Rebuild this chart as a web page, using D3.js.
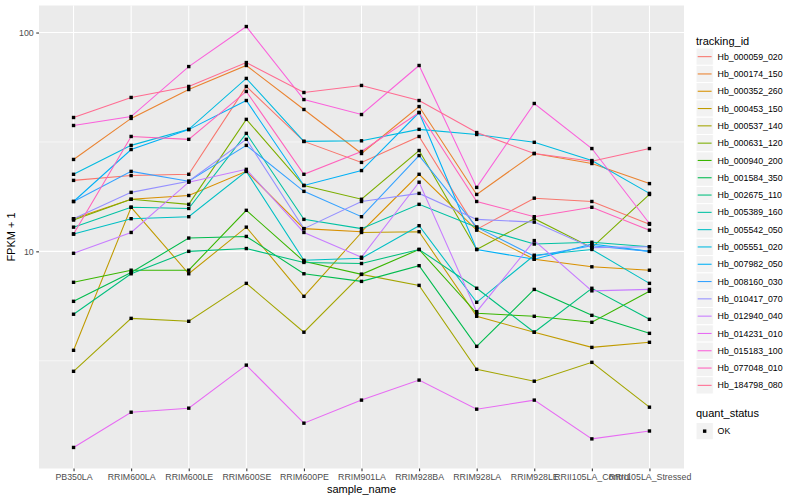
<!DOCTYPE html>
<html>
<head>
<meta charset="utf-8">
<script src="https://cdn.jsdelivr.net/npm/d3@7"></script>
<style>
  body { margin: 0; background: #fff; }
  svg { display: block; font-family: "Liberation Sans", Arial, Helvetica, sans-serif; }
</style>
</head>
<body>
<svg id="chart" width="800" height="500"></svg>
<script>
const samples = ["PB350LA", "RRIM600LA", "RRIM600LE", "RRIM600SE", "RRIM600PE", "RRIM901LA",
  "RRIM928BA", "RRIM928LA", "RRIM928LE", "RRII105LA_Control", "RRII105LA_Stressed"];

const trackingIds = ["Hb_000059_020", "Hb_000174_150", "Hb_000352_260", "Hb_000453_150", "Hb_000537_140",
  "Hb_000631_120", "Hb_000940_200", "Hb_001584_350", "Hb_002675_110", "Hb_005389_160",
  "Hb_005542_050", "Hb_005551_020", "Hb_007982_050", "Hb_008160_030", "Hb_010417_070",
  "Hb_012940_040", "Hb_014231_010", "Hb_015183_100", "Hb_077048_010", "Hb_184798_080"];

// FPKM + 1, one array per gene, in sample order
const hb_000059_020 = [21.1, 22.2, 22.5, 56.7, 31.8, 25.5, 33.5, 12.6, 17.5, 16.9, 13.3];
const hb_000174_150 = [26.3, 40.5, 54.9, 70.7, 44.5, 28.0, 45.9, 18.2, 28.0, 25.2, 20.4];
const hb_000352_260 = [14.1, 17.3, 18.0, 23.2, 12.7, 12.3, 22.5, 12.5, 9.2, 8.5, 8.2];
const hb_000453_150 = [3.53, 15.9, 7.9, 12.9, 6.23, 12.2, 12.3, 5.05, 4.27, 3.64, 3.84];
const hb_000537_140 = [2.83, 4.94, 4.79, 7.14, 4.27, 7.85, 6.99, 2.89, 2.55, 3.11, 1.94];
const hb_000631_120 = [13.9, 17.3, 16.4, 40.1, 20.0, 17.3, 28.9, 10.2, 14.1, 10.4, 18.2];
const hb_000940_200 = [7.22, 8.2, 8.2, 15.4, 9.0, 7.85, 10.2, 5.21, 5.05, 4.74, 6.57];
const hb_001584_350 = [5.91, 8.0, 11.5, 11.7, 7.9, 7.29, 8.6, 3.68, 6.7, 5.1, 4.22];
const hb_002675_110 = [5.16, 7.9, 10.0, 10.3, 8.9, 8.8, 10.2, 6.78, 4.27, 6.78, 4.89];
const hb_005389_160 = [12.9, 15.9, 15.7, 34.6, 14.0, 12.7, 16.4, 12.9, 10.8, 11.0, 10.5];
const hb_005542_050 = [12.0, 14.1, 14.4, 23.2, 9.1, 9.3, 13.1, 5.85, 9.6, 10.2, 7.14];
const hb_005551_020 = [22.5, 30.5, 36.1, 61.7, 31.8, 32.0, 36.1, 34.2, 31.5, 26.0, 18.4];
const hb_007982_050 = [16.9, 29.2, 36.0, 48.9, 20.0, 23.4, 43.1, 10.2, 9.2, 10.8, 10.0];
const hb_008160_030 = [16.9, 23.2, 20.9, 30.5, 18.8, 14.4, 27.4, 12.9, 9.5, 10.6, 10.0];
const hb_010417_070 = [14.1, 18.6, 20.9, 32.5, 12.7, 16.9, 18.4, 14.0, 13.6, 10.4, 10.5];
const hb_012940_040 = [9.8, 12.2, 20.7, 23.7, 12.2, 9.4, 20.7, 5.3, 11.2, 6.6, 6.7];
const hb_014231_010 = [1.27, 1.84, 1.92, 3.02, 1.64, 2.09, 2.58, 1.90, 2.09, 1.39, 1.51];
const hb_015183_100 = [37.6, 41.3, 69.9, 106.5, 49.4, 42.2, 70.7, 19.6, 47.4, 29.5, 13.4];
const hb_077048_010 = [12.0, 33.5, 32.5, 53.8, 22.5, 28.6, 43.1, 16.9, 14.4, 15.9, 12.5];
const hb_184798_080 = [40.9, 50.5, 56.7, 72.9, 53.2, 57.3, 48.9, 34.9, 28.0, 25.8, 29.5];

const geneValues = [hb_000059_020, hb_000174_150, hb_000352_260, hb_000453_150, hb_000537_140,
  hb_000631_120, hb_000940_200, hb_001584_350, hb_002675_110, hb_005389_160,
  hb_005542_050, hb_005551_020, hb_007982_050, hb_008160_030, hb_010417_070,
  hb_012940_040, hb_014231_010, hb_015183_100, hb_077048_010, hb_184798_080];

const yTicks = [10, 100];
const yMinorTicks = [3.162, 31.62];
const quantLevels = ["OK"];

// ggplot2 default hue palette for 20 levels
const palette = ["#F8766D", "#EA8331", "#D89000", "#C09B00", "#A3A500", "#7CAE00", "#39B600",
  "#00BB4E", "#00BF7D", "#00C1A3", "#00BFC4", "#00BAE0", "#00B0F6", "#35A2FF", "#9590FF",
  "#C77CFF", "#E76BF3", "#FA62DB", "#FF62BC", "#FF6C91"];

const series = trackingIds.map((id, i) => ({
  id,
  values: samples.map((s, j) => ({ sample: s, value: geneValues[i][j] }))
}));

const svg = d3.select("#chart");
const panel = { left: 39, top: 5.5, right: 684, bottom: 468.5 };

const color = d3.scaleOrdinal().domain(trackingIds).range(palette);

const x = d3.scalePoint()
  .domain(samples)
  .range([panel.left, panel.right])
  .padding(0.6);

const allVals = series.flatMap((s) => s.values.map((d) => d.value));
const logExt = d3.extent(allVals, (v) => Math.log10(v));
const pad = (logExt[1] - logExt[0]) * 0.05;
const y = d3.scaleLog()
  .domain([Math.pow(10, logExt[0] - pad), Math.pow(10, logExt[1] + pad)])
  .range([panel.bottom, panel.top]);

// panel background
svg.append("rect")
  .attr("x", panel.left).attr("y", panel.top)
  .attr("width", panel.right - panel.left).attr("height", panel.bottom - panel.top)
  .attr("fill", "#EBEBEB");

// grid
const grid = svg.append("g");
grid.selectAll(".minor")
  .data(yMinorTicks)
  .join("line")
  .attr("x1", panel.left).attr("x2", panel.right)
  .attr("y1", (d) => y(d)).attr("y2", (d) => y(d))
  .attr("stroke", "#fff").attr("stroke-width", 0.55);
grid.selectAll(".majorY")
  .data(yTicks)
  .join("line")
  .attr("x1", panel.left).attr("x2", panel.right)
  .attr("y1", (d) => y(d)).attr("y2", (d) => y(d))
  .attr("stroke", "#fff").attr("stroke-width", 1.07);
grid.selectAll(".majorX")
  .data(samples)
  .join("line")
  .attr("x1", (d) => x(d)).attr("x2", (d) => x(d))
  .attr("y1", panel.top).attr("y2", panel.bottom)
  .attr("stroke", "#fff").attr("stroke-width", 1.07);

// lines
const lineGen = d3.line()
  .x((d) => x(d.sample))
  .y((d) => y(d.value));

svg.append("g")
  .selectAll("path")
  .data(series)
  .join("path")
  .attr("d", (d) => lineGen(d.values))
  .attr("fill", "none")
  .attr("stroke", (d) => color(d.id))
  .attr("stroke-width", 1.07);

// points
const ptSize = 3.4;
svg.append("g")
  .selectAll("rect")
  .data(series.flatMap((s) => s.values))
  .join("rect")
  .attr("x", (d) => x(d.sample) - ptSize / 2)
  .attr("y", (d) => y(d.value) - ptSize / 2)
  .attr("width", ptSize)
  .attr("height", ptSize)
  .attr("fill", "#000");

// axes
const xAxis = svg.append("g")
  .attr("transform", `translate(0, ${panel.bottom})`)
  .call(d3.axisBottom(x).tickSize(2.75).tickPadding(2.5));
xAxis.select(".domain").remove();
xAxis.selectAll("line").attr("stroke", "#333333").attr("stroke-width", 1.07);
xAxis.selectAll("text")
  .attr("fill", "#4D4D4D")
  .style("font-size", "8.8px")
  .style("font-family", "\"Liberation Sans\", Arial, sans-serif");

const yAxis = svg.append("g")
  .attr("transform", `translate(${panel.left}, 0)`)
  .call(d3.axisLeft(y).tickValues(yTicks).tickFormat(d3.format("d")).tickSize(2.75).tickPadding(2.5));
yAxis.select(".domain").remove();
yAxis.selectAll("line").attr("stroke", "#333333").attr("stroke-width", 1.07);
yAxis.selectAll("text")
  .attr("fill", "#4D4D4D")
  .style("font-size", "8.8px")
  .style("font-family", "\"Liberation Sans\", Arial, sans-serif");

svg.append("text")
  .attr("x", (panel.left + panel.right) / 2)
  .attr("y", 493)
  .attr("text-anchor", "middle")
  .attr("font-size", 11)
  .attr("fill", "#000")
  .text("sample_name");

svg.append("text")
  .attr("transform", `translate(15, ${(panel.top + panel.bottom) / 2}) rotate(-90)`)
  .attr("text-anchor", "middle")
  .attr("font-size", 11)
  .attr("fill", "#000")
  .text("FPKM + 1");

// legend: tracking_id
const legX = 696;
const keySize = 17.3;
const legTop = 48;
const legend = svg.append("g");
legend.append("text")
  .attr("x", legX).attr("y", 44.5)
  .attr("font-size", 11).attr("fill", "#000")
  .text("tracking_id");

const keys = legend.selectAll(".key")
  .data(trackingIds)
  .join("g")
  .attr("transform", (d, i) => `translate(${legX}, ${legTop + i * keySize})`);
keys.append("rect")
  .attr("width", keySize).attr("height", keySize)
  .attr("fill", "#F2F2F2").attr("stroke", "#fff").attr("stroke-width", 1);
keys.append("line")
  .attr("x1", 1.7).attr("x2", keySize - 1.7)
  .attr("y1", keySize / 2).attr("y2", keySize / 2)
  .attr("stroke", (d) => color(d)).attr("stroke-width", 1.07);
keys.append("text")
  .attr("x", keySize + 4.3).attr("y", keySize / 2)
  .attr("dy", "0.35em")
  .attr("font-size", 8.8).attr("fill", "#000")
  .text((d) => d);

// legend: quant_status
const qTop = 422.5;
legend.append("text")
  .attr("x", legX).attr("y", qTop - 5.5)
  .attr("font-size", 11).attr("fill", "#000")
  .text("quant_status");
const qKeys = legend.selectAll(".qkey")
  .data(quantLevels)
  .join("g")
  .attr("transform", (d, i) => `translate(${legX}, ${qTop + i * keySize})`);
qKeys.append("rect")
  .attr("width", keySize).attr("height", keySize)
  .attr("fill", "#F2F2F2").attr("stroke", "#fff").attr("stroke-width", 1);
qKeys.append("rect")
  .attr("x", keySize / 2 - ptSize / 2).attr("y", keySize / 2 - ptSize / 2)
  .attr("width", ptSize).attr("height", ptSize)
  .attr("fill", "#000");
qKeys.append("text")
  .attr("x", keySize + 4.3).attr("y", keySize / 2)
  .attr("dy", "0.35em")
  .attr("font-size", 8.8).attr("fill", "#000")
  .text((d) => d);
</script>
</body>
</html>
